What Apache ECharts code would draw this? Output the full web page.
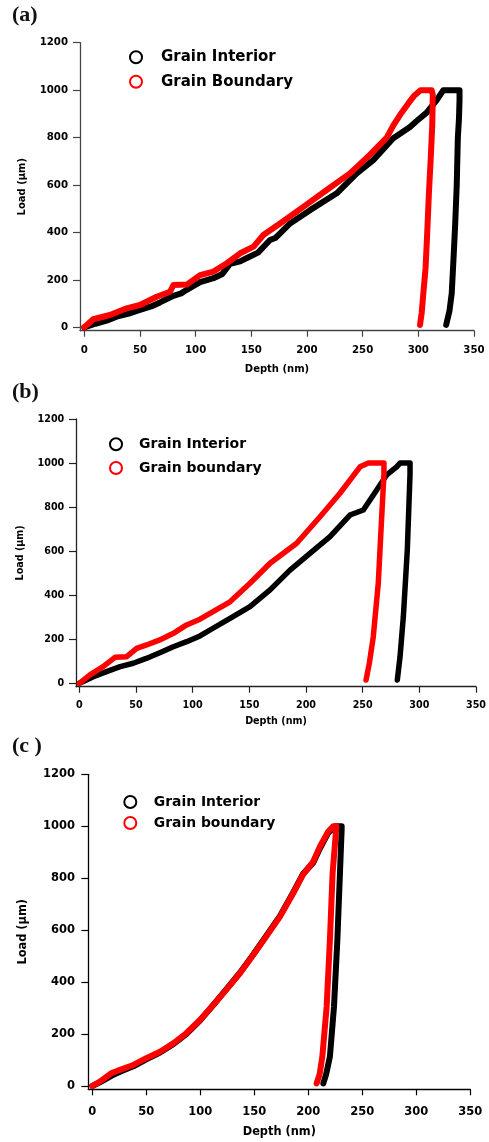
<!DOCTYPE html>
<html>
<head>
<meta charset="utf-8">
<script src="https://cdn.jsdelivr.net/npm/echarts@6/dist/echarts.min.js"></script>
<style>
html,body{margin:0;padding:0;background:#fff;}
#chart{width:489px;height:1142px;}
</style>
</head>
<body>
<div id="chart"></div>
<script>
// ---------- data ----------
const xTicks = [0, 50, 100, 150, 200, 250, 300, 350];
const yTicks = [0, 200, 400, 600, 800, 1000, 1200];

// Panel (a)
const aInteriorDepth = [0, 10, 20, 29, 40, 50, 60, 68, 80, 87, 92, 104, 116, 124, 131, 140, 146, 156, 166.8, 172, 184.8, 202.7, 226.7, 244.7, 259.5, 277.5, 292.5, 298.5, 307.5, 316.5, 322.5, 330, 337, 337, 336.5, 335.5, 334.5, 333, 331.5, 330, 328, 325];
const aInteriorLoad  = [0, 15, 28, 45, 58, 73, 88, 105, 133, 143, 158, 190, 207, 225, 268, 278, 292, 315, 368, 378, 438, 494, 565, 649, 705, 797, 845, 870, 905, 958, 1000, 1000, 1000, 958, 880, 800, 600, 424, 280, 143, 70, 10];
const aBoundaryDepth = [0, 8, 23, 38, 50, 65, 77, 80, 92, 104, 116, 128, 140, 152, 160.8, 175.8, 196.7, 217.7, 238.6, 256.6, 265, 271.6, 278, 283.5, 291, 296, 302, 312, 313, 312.5, 311, 309.5, 308, 306.5, 304.5, 303, 301.5];
const aBoundaryLoad  = [0, 34, 52, 80, 94, 129, 150, 178, 180, 220, 235, 270, 312, 340, 389, 438, 508, 579, 649, 728, 768, 800, 855, 895, 944, 975, 1000, 1000, 980, 850, 700, 565, 400, 250, 143, 60, 10];

// Panel (b)
const bInteriorDepth = [0, 12.4, 24, 36, 47.6, 59, 71, 83, 94.7, 106.5, 118, 133, 150.6, 168.3, 185.9, 203.5, 221.2, 238.8, 250.6, 262.4, 271.2, 280, 283, 291.8, 291.8, 289.4, 285.9, 283, 280.6];
const bInteriorLoad  = [0, 30, 53, 76, 91, 113, 139, 166, 189, 215, 250, 295, 348, 424, 514, 590, 666, 764, 787, 878, 946, 983, 1000, 1000, 950, 605, 302, 121, 15];
const bBoundaryDepth = [0, 9.4, 21, 31.5, 41.8, 50.6, 59.4, 71, 83, 94.7, 106.5, 118, 133, 150.6, 168.3, 191.8, 212.4, 230, 247.7, 255, 268.8, 268.8, 266.8, 263.8, 259.4, 255.9, 253];
const bBoundaryLoad  = [0, 38, 76, 118, 121, 159, 174, 197, 227, 265, 291, 325, 370, 454, 545, 636, 756, 863, 983, 1000, 1000, 950, 756, 454, 212, 91, 15];

// Panel (c)
const cInteriorDepth = [0, 7, 18, 25.6, 38, 50, 62.7, 75, 87, 99.7, 112, 124, 136.7, 149, 161, 173.8, 186, 195, 204.6, 210.8, 218.5, 225, 230.9, 230.9, 229.3, 226.9, 223.8, 220, 216.5, 213.9];
const cInteriorLoad  = [0, 14, 40, 55, 76, 103, 129, 161, 200, 252, 312, 372, 436, 506, 578, 655, 745, 816, 860, 915, 975, 1000, 1000, 990, 819, 562, 306, 113, 45, 10];
const cBoundaryDepth = [0, 7, 18, 21, 25.6, 38, 50, 62.7, 75, 87, 99.7, 112, 124, 136.7, 149, 161, 173.8, 186, 195, 204.6, 210.8, 218.5, 223, 226, 224.7, 222.5, 220, 217, 213, 210.5, 207.7];
const cBoundaryLoad  = [0, 17, 50, 55, 62, 81, 107, 132, 164, 203, 254, 312, 370, 434, 504, 575, 652, 742, 813, 864, 922, 980, 1000, 1000, 999, 819, 562, 306, 113, 45, 10];

// ---------- build ----------
function zip(xs, ys) { return xs.map((x, i) => [x, ys[i]]); }
const plain = v => String(v);

const FONT = 'DejaVu Sans';

const panels = [
  { title: '(a)', titleTop: 4, left: 80, top: 42.7, width: 394, height: 288, xMin: -3.86, yMin: -14.3,
    labelSize: 10.2, nameSize: 10, xNameGap: 34, yNameGap: 53, xMargin: 15, yMargin: 12, axisColor: '#444', lw: 6,
    interior: zip(aInteriorDepth, aInteriorLoad), boundary: zip(aBoundaryDepth, aBoundaryLoad),
    names: ['Grain Interior', 'Grain Boundary'], legLeft: 129, legTop: 49.7, legGap: 9.6, legPad: 14, legSize: 15 },
  { title: '(b)', titleTop: 381, left: 76, top: 419, width: 400, height: 267.7, xMin: -2.9, yMin: -15.4,
    labelSize: 9.6, nameSize: 9.6, xNameGap: 30, yNameGap: 51, xMargin: 14, yMargin: 11.7, axisColor: '#222', lw: 5.5,
    interior: zip(bInteriorDepth, bInteriorLoad), boundary: zip(bBoundaryDepth, bBoundaryLoad),
    names: ['Grain Interior', 'Grain boundary'], legLeft: 109, legTop: 437.3, legGap: 9.7, legPad: 12, legSize: 14 },
  { title: '(c )', titleTop: 735, left: 88.3, top: 774.3, width: 382, height: 315, xMin: -3.7, yMin: -12.7,
    labelSize: 11.5, nameSize: 11.4, xNameGap: 37, yNameGap: 60, xMargin: 17, yMargin: 13.3, axisColor: '#000', lw: 6,
    interior: zip(cInteriorDepth, cInteriorLoad), boundary: zip(cBoundaryDepth, cBoundaryLoad),
    names: ['Grain Interior', 'Grain boundary'], legLeft: 123.3, legTop: 795, legGap: 7, legPad: 12.5, legSize: 13.9 }
];

const option = {
  animation: false,
  backgroundColor: '#fff',
  title: [], legend: [], grid: [], xAxis: [], yAxis: [], series: []
};

panels.forEach((p, i) => {
  option.title.push({
    text: p.title, left: 12, top: p.titleTop, padding: 0,
    textStyle: { fontFamily: 'Liberation Serif', fontWeight: 'bold', fontSize: 22, color: '#111' }
  });
  option.grid.push({ left: p.left, top: p.top, width: p.width, height: p.height, containLabel: false });
  const axisLine = { show: true, onZero: false, lineStyle: { color: p.axisColor, width: 1.3 } };
  option.xAxis.push({
    type: 'value', gridIndex: i, min: p.xMin, max: 350,
    name: 'Depth (nm)', nameLocation: 'middle', nameGap: p.xNameGap,
    nameTextStyle: { fontFamily: FONT, fontWeight: 'bold', fontSize: p.nameSize, color: '#000' },
    axisLine: axisLine,
    axisTick: { show: true, inside: false, length: 6, customValues: xTicks, lineStyle: { color: p.axisColor, width: 1.2 } },
    axisLabel: { customValues: xTicks, formatter: plain, margin: p.xMargin, fontFamily: FONT, fontWeight: 'bold', fontSize: p.labelSize, color: '#000' },
    splitLine: { show: false }
  });
  option.yAxis.push({
    type: 'value', gridIndex: i, min: p.yMin, max: 1200,
    name: 'Load (μm)', nameLocation: 'middle', nameGap: p.yNameGap,
    nameTextStyle: { fontFamily: FONT, fontWeight: 'bold', fontSize: p.nameSize, color: '#000' },
    axisLine: axisLine,
    axisTick: { show: true, inside: false, length: 7, customValues: yTicks, lineStyle: { color: p.axisColor, width: 1.2 } },
    axisLabel: { customValues: yTicks, formatter: plain, margin: p.yMargin, fontFamily: FONT, fontWeight: 'bold', fontSize: p.labelSize, color: '#000' },
    splitLine: { show: false }
  });
  option.legend.push({
    orient: 'vertical', left: p.legLeft, top: p.legTop, padding: 0,
    itemWidth: 12, itemHeight: 12, itemGap: p.legGap, icon: 'emptyCircle',
    data: p.names,
    itemStyle: { borderWidth: 1.2 },
    textStyle: { fontFamily: FONT, fontWeight: 'bold', fontSize: p.legSize, color: '#000', padding: [0, 0, 0, p.legPad], lineHeight: 12 },
    selectedMode: false
  });
  option.series.push({
    type: 'line', name: p.names[0], xAxisIndex: i, yAxisIndex: i,
    data: p.interior, symbol: 'none', showSymbol: false, smooth: false,
    itemStyle: { color: '#000' },
    lineStyle: { color: '#000', width: p.lw, cap: 'round', join: 'round' }
  });
  option.series.push({
    type: 'line', name: p.names[1], xAxisIndex: i, yAxisIndex: i,
    data: p.boundary, symbol: 'none', showSymbol: false, smooth: false,
    itemStyle: { color: '#ff0000' },
    lineStyle: { color: '#ff0000', width: p.lw, cap: 'round', join: 'round' }
  });
});

const chart = echarts.init(document.getElementById('chart'), null, { renderer: 'canvas' });
chart.setOption(option);
</script>
</body>
</html>
